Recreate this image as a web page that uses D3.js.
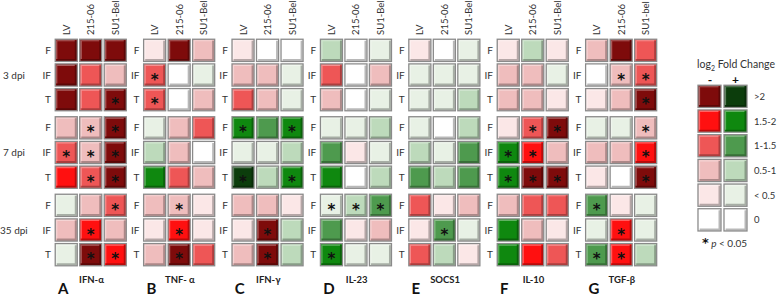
<!DOCTYPE html>
<html>
<head>
<meta charset="utf-8">
<script src="https://cdn.jsdelivr.net/npm/d3@7"></script>
<style>
  body { margin: 0; background: #fff; }
  svg { display: block; font-family: Lato, "Open Sans", sans-serif; }
</style>
</head>
<body>
<div id="chart"></div>
<script>
// log2 fold change per cell: rows = 3/7/35 dpi x (F, IF, T), cols = LV, 215-06, SU1-Bel
// negative = red column in the legend, positive = green column
const genes = ["IFN-α", "TNF- α", "IFN-γ", "IL-23", "SOCS1", "IL-10", "TGF-β"];
const letters = ["A", "B", "C", "D", "E", "F", "G"];
const timepoints = ["3 dpi", "7 dpi", "35 dpi"];
const tissues = ["F", "IF", "T"];
const strains = ["LV", "215-06", "SU1-Bel"];
const strainsG = ["LV", "215-06", "SU1-bel"];

const ifnAlpha = [[-2.5,-2.5,-2.5],[-2.5,-1.2,-0.7],[-2.5,-1.2,-2.5],[-0.7,-0.7,-2.5],[-1.2,-0.7,-2.5],[-1.7,-1.2,-2.5],[0.3,-0.7,-1.2],[-0.7,-1.7,-0.7],[0.3,-2.5,-1.7]];
const tnfAlpha = [[-0.3,-2.5,-0.7],[-1.2,0,0.3],[-1.2,0,-0.7],[0.3,-0.7,-1.2],[0.7,-0.7,0],[1.7,-1.2,-0.7],[-0.7,-0.7,-0.3],[-0.3,-1.7,-0.3],[-0.7,-2.5,-1.2]];
const ifnGamma = [[-0.3,0,0],[-0.7,-0.7,0.3],[-1.2,-0.7,0.3],[1.7,1.2,1.7],[0.3,0.3,0.7],[2.5,0.7,1.7],[-0.7,-0.7,-0.3],[-0.3,-2.5,0.7],[-0.7,-2.5,0.7]];
const il23 = [[0.7,0,0.3],[-1.2,0,-0.7],[-0.7,0,0.3],[0.3,0.3,0.7],[1.2,-0.3,0.3],[1.7,0,0.7],[0.3,0.7,1.2],[1.2,-0.3,-0.7],[1.7,0.3,0.3]];
const socs1 = [[-0.3,0,0.3],[0.3,0.3,0.3],[0.3,0.3,0.7],[0.3,0,0.7],[0.7,0.3,1.2],[1.2,0.7,1.2],[-1.2,-0.3,-0.7],[-0.3,1.2,0.3],[-1.2,0.7,-0.3]];
const il10 = [[-0.3,0.7,-0.3],[-0.7,-0.7,0.3],[-0.7,-0.7,-0.3],[-0.3,-1.2,-2.5],[1.7,-1.7,-0.7],[1.7,-2.5,-2.5],[-0.7,-1.2,-1.2],[1.7,-0.7,-0.3],[1.7,-1.7,-1.2]];
const tgfBeta = [[-0.7,-2.5,-1.2],[0,-0.7,-1.2],[-0.3,-0.7,-2.5],[0.3,0.3,-0.7],[-0.7,-0.7,-1.7],[-0.3,0,-2.5],[1.2,-0.3,0.3],[0.3,-1.7,0.3],[1.2,-1.7,0.7]];

// p < 0.05 markers, same layout
const ifnAlphaSig = [[0,0,0],[0,0,0],[0,0,1],[0,1,1],[1,1,1],[0,1,1],[0,0,1],[0,1,0],[0,1,1]];
const tnfAlphaSig = [[0,0,0],[1,0,0],[1,0,0],[0,0,0],[0,0,0],[0,0,0],[0,1,0],[0,1,0],[0,1,0]];
const ifnGammaSig = [[0,0,0],[0,0,0],[0,0,0],[1,0,1],[0,0,0],[1,0,1],[0,0,0],[0,1,0],[0,1,0]];
const il23Sig = [[0,0,0],[0,0,0],[0,0,0],[0,0,0],[0,0,0],[0,0,0],[1,1,1],[0,0,0],[1,0,0]];
const socs1Sig = [[0,0,0],[0,0,0],[0,0,0],[0,0,0],[0,0,0],[0,0,0],[0,0,0],[0,1,0],[0,0,0]];
const il10Sig = [[0,0,0],[0,0,0],[0,0,0],[0,1,1],[1,1,0],[1,1,1],[0,0,0],[0,0,0],[0,0,0]];
const tgfBetaSig = [[0,0,0],[0,1,1],[0,0,1],[0,0,1],[0,0,1],[0,0,1],[1,0,0],[0,1,0],[1,1,0]];

const legendLabels = [">2", "1.5-2", "1-1.5", "0.5-1", "< 0.5", "0"];
const legendNeg = [-2.5, -1.7, -1.2, -0.7, -0.3, 0];
const legendPos = [2.5, 1.7, 1.2, 0.7, 0.3, 0];

const values = [ifnAlpha, tnfAlpha, ifnGamma, il23, socs1, il10, tgfBeta];
const sigs = [ifnAlphaSig, tnfAlphaSig, ifnGammaSig, il23Sig, socs1Sig, il10Sig, tgfBetaSig];

const width = 778, height = 296;
const fs = 9.5; // label size

const svg = d3.select("#chart").append("svg")
    .attr("width", width)
    .attr("height", height);

const color = d3.scaleThreshold()
    .domain([-2, -1.5, -1, -0.5, -0.05, 0.05, 0.5, 1, 1.5, 2])
    .range(["#7e0b0b", "#ff1010", "#ee5656", "#efbdbd", "#fbe7e7", "#ffffff",
            "#e8f1e5", "#bddabb", "#4e9a4e", "#0f880f", "#0c3d0c"]);

// scales
const xPanel = d3.scaleBand().domain(genes).range([54, 54 + 88.4 * 7]);
const xStrain = d3.scaleBand().domain(d3.range(3)).range([0, 73.5]).paddingInner(0.1).paddingOuter(0.05);
const yTime = d3.scaleBand().domain(timepoints).range([38, 270.5]);
const yTissue = d3.scaleBand().domain(tissues).range([0, 74]).paddingInner(0.1).paddingOuter(0.05);

function drawCell(g, x, y, w, h, v, star) {
    g.append("rect")
        .attr("x", x).attr("y", y)
        .attr("width", w).attr("height", h)
        .attr("fill", color(v))
        .attr("stroke", "#8a8a8a")
        .attr("stroke-width", 1.3);
    // bevel: shadow bottom/right, highlight top/left
    g.append("path")
        .attr("d", `M${x + 1.6},${y + h - 1.6}H${x + w - 1.6}V${y + 1.6}`)
        .attr("fill", "none")
        .attr("stroke", "#000")
        .attr("stroke-opacity", 0.28)
        .attr("stroke-width", 1.8);
    g.append("path")
        .attr("d", `M${x + 1.5},${y + h - 2.5}V${y + 1.5}H${x + w - 2.5}`)
        .attr("fill", "none")
        .attr("stroke", "#fff")
        .attr("stroke-opacity", 0.35)
        .attr("stroke-width", 1.2);
    if (star) {
        g.append("text")
            .attr("x", x + w / 2)
            .attr("y", y + h / 2 + 9.5)
            .attr("text-anchor", "middle")
            .attr("font-family", "DejaVu Sans")
            .attr("font-weight", "bold")
            .attr("font-size", 15)
            .attr("fill", "#111")
            .text("*");
    }
}

// panels
genes.forEach((gene, gi) => {
    const px = xPanel(gene);
    const g = svg.append("g");
    const labels = gi === 6 ? strainsG : strains;

    labels.forEach((s, si) => {
        const cx = px + xStrain(si) + xStrain.bandwidth() / 2 + 3.5;
        g.append("text")
            .attr("transform", `translate(${cx},35) rotate(-90)`)
            .attr("font-size", fs)
            .attr("fill", "#333")
            .text(s);
    });

    timepoints.forEach((tp, ti) => {
        tissues.forEach((ts, ri) => {
            const y = yTime(tp) + yTissue(ts);
            const row = ti * 3 + ri;
            g.append("text")
                .attr("x", px - 3)
                .attr("y", y + yTissue.bandwidth() / 2 + 3.5)
                .attr("text-anchor", "end")
                .attr("font-size", fs + 0.5)
                .attr("fill", "#333")
                .text(ts);
            for (let si = 0; si < 3; si++) {
                drawCell(g, px + xStrain(si), y, xStrain.bandwidth(), yTissue.bandwidth(),
                    values[gi][row][si], sigs[gi][row][si]);
            }
        });
    });

    g.append("text")
        .attr("x", px + 37.5)
        .attr("y", 283)
        .attr("text-anchor", "middle")
        .attr("font-size", 9.5)
        .attr("font-weight", "bold")
        .attr("fill", "#222")
        .text(gene);

    g.append("text")
        .attr("x", px + 4)
        .attr("y", 294)
        .attr("font-size", 15)
        .attr("font-weight", "bold")
        .attr("fill", "#111")
        .text(letters[gi]);
});

// timepoint labels
timepoints.forEach(tp => {
    svg.append("text")
        .attr("x", tp === "35 dpi" ? 0 : 3)
        .attr("y", yTime(tp) + yTissue("IF") + yTissue.bandwidth() / 2 + 3.5)
        .attr("font-size", fs + 0.5)
        .attr("fill", "#333")
        .text(tp);
});

// legend
const legend = svg.append("g");
const yLeg = d3.scaleBand().domain(legendLabels).range([84, 84 + 24.7 * 6]).paddingInner(0.1).paddingOuter(0.05);

const title = legend.append("text")
    .attr("x", 697).attr("y", 68)
    .attr("font-size", 10.5)
    .attr("fill", "#333");
title.append("tspan").text("log");
title.append("tspan").attr("font-size", 7).attr("dy", 3).text("2");
title.append("tspan").attr("dy", -3).text(" Fold Change");

legend.append("text").attr("x", 710).attr("y", 84).attr("text-anchor", "middle")
    .attr("font-size", 12).attr("font-weight", "bold").attr("fill", "#111").text("-");
legend.append("text").attr("x", 735.5).attr("y", 84).attr("text-anchor", "middle")
    .attr("font-size", 12).attr("font-weight", "bold").attr("fill", "#111").text("+");

legendLabels.forEach((lab, i) => {
    const y = yLeg(lab);
    drawCell(legend, 698, y, 23, yLeg.bandwidth(), legendNeg[i], 0);
    drawCell(legend, 724, y, 23, yLeg.bandwidth(), legendPos[i], 0);
    legend.append("text")
        .attr("x", 754)
        .attr("y", y + yLeg.bandwidth() / 2 + 3.5)
        .attr("font-size", fs)
        .attr("fill", "#333")
        .text(lab);
});

const note = legend.append("text")
    .attr("x", 702).attr("y", 247)
    .attr("font-size", fs + 0.5)
    .attr("fill", "#333");
note.append("tspan").attr("font-family", "DejaVu Sans").attr("font-weight", "bold")
    .attr("font-size", 13).attr("fill", "#111").text("*");
note.append("tspan").attr("font-style", "italic").text(" p");
note.append("tspan").text(" < 0.05");
</script>
</body>
</html>
